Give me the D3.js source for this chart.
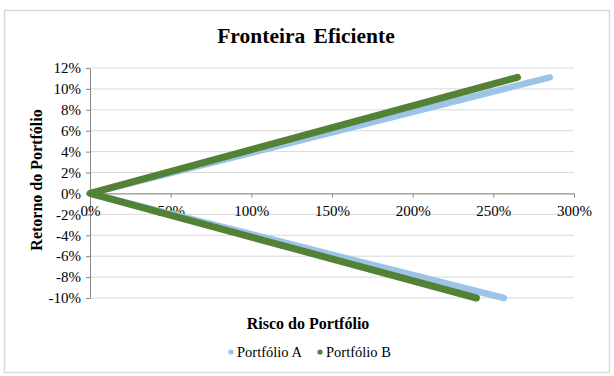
<!DOCTYPE html>
<html><head><meta charset="utf-8">
<script src="https://cdn.jsdelivr.net/npm/d3@7"></script>
<style>body{margin:0;background:#fff}svg{display:block}
svg text{font-family:"Liberation Serif","Times New Roman",serif !important;}</style>
</head><body>
<svg id="c" width="614" height="376"></svg>
<script>
const xTicks = [0, 0.5, 1, 1.5, 2, 2.5, 3];
const yTicks = [-0.10, -0.08, -0.06, -0.04, -0.02, 0, 0.02, 0.04, 0.06, 0.08, 0.10, 0.12];
const seriesNames = ["Portfólio A", "Portfólio B"];
const seriesColors = ["#9dc3e6", "#538135"];
const riskA = [2.565, 0, 2.85];
const returnA = [-0.100, 0, 0.111];
const riskB = [2.395, 0, 2.65];
const returnB = [-0.100, 0, 0.111];

const svg = d3.select("#c");

// outer border
svg.append("rect").attr("x", 4.5).attr("y", 10.5).attr("width", 605).attr("height", 362)
  .attr("fill", "#fff").attr("stroke", "#d9d9d9").attr("stroke-width", 1.5);

const x = d3.scaleLinear().domain([0, 3]).range([90, 574]);
const y = d3.scaleLinear().domain([-0.10, 0.12]).range([298, 68]);
const pct = d => Math.round(d * 100) + "%";

// gridlines
svg.append("g").selectAll("line").data(yTicks).join("line")
  .attr("x1", x(0)).attr("x2", x(3)).attr("y1", d => y(d)).attr("y2", d => y(d))
  .attr("stroke", "#d9d9d9").attr("stroke-width", 1);

// y axis
const yAxis = svg.append("g").attr("transform", `translate(${x(0)},0)`)
  .call(d3.axisLeft(y).tickValues(yTicks).tickFormat(pct).tickSize(4).tickSizeOuter(0));
yAxis.select(".domain").attr("stroke", "#868686");
yAxis.selectAll(".tick line").attr("stroke", "#868686");
yAxis.selectAll("text").attr("font-size", 15).attr("fill", "#000").attr("x", -9);

// x axis at y=0
const xAxis = svg.append("g").attr("transform", `translate(0,${y(0)})`)
  .call(d3.axisBottom(x).tickValues(xTicks).tickFormat(pct).tickSize(4).tickSizeOuter(0));
xAxis.select(".domain").attr("stroke", "#868686");
xAxis.selectAll(".tick line").attr("stroke", "#868686");
xAxis.selectAll("text").attr("font-size", 15).attr("fill", "#000").attr("y", 22.5).attr("dy", 0);

// series
const line = d3.line().x(d => x(d[0])).y(d => y(d[1]));
const dataA = riskA.map((r, i) => [r, returnA[i]]);
const dataB = riskB.map((r, i) => [r, returnB[i]]);
[[dataA, 6.5], [dataB, 7]].forEach(([data, w], i) => {
  svg.append("path").datum(data).attr("d", line)
    .attr("fill", "none").attr("stroke", seriesColors[i]).attr("stroke-width", w)
    .attr("stroke-linecap", "round").attr("stroke-linejoin", "round");
});

// title
svg.append("text").attr("x", 306).attr("y", 43).attr("text-anchor", "middle")
  .attr("font-weight", "bold").attr("font-size", 21.5)
  .attr("word-spacing", 3).text("Fronteira Eficiente");

// axis titles
svg.append("text").attr("x", 308).attr("y", 329).attr("text-anchor", "middle")
  .attr("font-weight", "bold").attr("font-size", 16)
  .text("Risco do Portfólio");
svg.append("text").attr("transform", "translate(42,180) rotate(-90)").attr("text-anchor", "middle")
  .attr("font-weight", "bold").attr("font-size", 16)
  .text("Retorno do Portfólio");

// legend
const legX = [231, 320];
seriesNames.forEach((n, i) => {
  svg.append("circle").attr("cx", legX[i]).attr("cy", 352).attr("r", 2.6).attr("fill", seriesColors[i]);
  svg.append("text").attr("x", legX[i] + 6).attr("y", 357)
    .attr("font-size", 14.5).attr("fill", "#000").text(n);
});
</script>
</body></html>
